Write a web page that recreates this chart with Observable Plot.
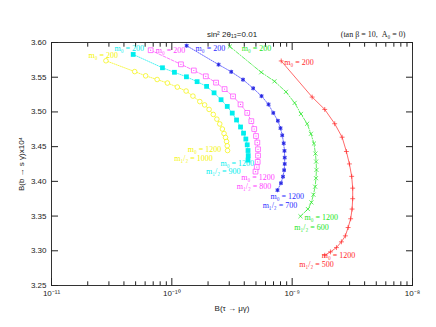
<!DOCTYPE html>
<html><head><meta charset="utf-8">
<script src="https://cdn.jsdelivr.net/npm/d3@7"></script>
<script src="https://cdn.jsdelivr.net/npm/@observablehq/plot@0.6"></script>
<style>body{margin:0;background:#fff;} svg{display:block}</style>
</head><body><div id="chart"></div>
<script>
// m_{1/2} value of each curve; m0 runs from 200 (top) to 1200 (bottom)
const m12Values = [500, 600, 700, 800, 900, 1000];
const m0Top = 200, m0Bottom = 1200;
const titleText = "sin² 2θ₁₃=0.01";
const noteText = "(tan β = 10,  A₀ = 0)";
const xLabel = "B(τ → μγ)";
const yLabel = "B(b → s γ)x10⁴";

const redX = [8.11e-10, 1.466e-9, 1.865e-9, 2.257e-9, 2.60e-9, 2.822e-9, 2.99e-9, 3.124e-9, 3.184e-9, 3.184e-9, 3.147e-9, 3.063e-9, 2.917e-9, 2.767e-9, 2.565e-9, 2.333e-9, 2.08e-9, 1.865e-9];
const redY = [3.5734, 3.5214, 3.5036, 3.483, 3.4636, 3.443, 3.4251, 3.4072, 3.3902, 3.375, 3.3601, 3.3461, 3.3335, 3.3215, 3.3129, 3.3046, 3.2984, 3.2936];
const greenX = [3.034e-10, 5.53e-10, 7.13e-10, 8.88e-10, 1.049e-9, 1.183e-9, 1.332e-9, 1.432e-9, 1.517e-9, 1.561e-9, 1.582e-9, 1.592e-9, 1.577e-9, 1.552e-9, 1.502e-9, 1.445e-9, 1.352e-9, 1.172e-9];
const greenY = [3.5942, 3.5571, 3.5441, 3.5289, 3.513, 3.4971, 3.483, 3.4685, 3.4545, 3.44, 3.4285, 3.4165, 3.4046, 3.3923, 3.3808, 3.3697, 3.3601, 3.3497];
const blueX = [1.327e-10, 2.445e-10, 3.118e-10, 3.905e-10, 4.746e-10, 5.563e-10, 6.36e-10, 6.97e-10, 7.60e-10, 8.0e-10, 8.275e-10, 8.50e-10, 8.63e-10, 8.665e-10, 8.665e-10, 8.58e-10, 8.39e-10, 8.07e-10, 7.55e-10];
const blueY = [3.5954, 3.5682, 3.5578, 3.5465, 3.534, 3.5228, 3.5108, 3.4986, 3.4873, 3.4766, 3.4663, 3.4548, 3.444, 3.4342, 3.4251, 3.4162, 3.4068, 3.3974, 3.3873];
const magentaX = [6.67e-11, 1.19e-10, 1.523e-10, 1.915e-10, 2.331e-10, 2.743e-10, 3.226e-10, 3.724e-10, 4.232e-10, 4.577e-10, 4.837e-10, 5.007e-10, 5.133e-10, 5.203e-10, 5.203e-10, 5.17e-10, 5.08e-10, 4.959e-10];
const magentaY = [3.5889, 3.5686, 3.5597, 3.5513, 3.5422, 3.5329, 3.5224, 3.5108, 3.4986, 3.4867, 3.4754, 3.4653, 3.4559, 3.4462, 3.4371, 3.428, 3.4205, 3.414];
const cyanX = [4.774e-11, 8.36e-11, 1.051e-10, 1.322e-10, 1.622e-10, 1.945e-10, 2.244e-10, 2.565e-10, 2.888e-10, 3.177e-10, 3.45e-10, 3.724e-10, 3.943e-10, 4.121e-10, 4.232e-10, 4.297e-10, 4.314e-10, 4.297e-10];
const cyanY = [3.5828, 3.5636, 3.5571, 3.5506, 3.5436, 3.5368, 3.5275, 3.5176, 3.5079, 3.4983, 3.4884, 3.4783, 3.4694, 3.461, 3.4526, 3.4444, 3.4371, 3.4306];
const yellowX = [2.833e-11, 4.913e-11, 6.06e-11, 7.55e-11, 9.19e-11, 1.111e-10, 1.314e-10, 1.497e-10, 1.708e-10, 1.873e-10, 2.04e-10, 2.21e-10, 2.367e-10, 2.502e-10, 2.63e-10, 2.716e-10, 2.795e-10, 2.85e-10, 2.888e-10, 2.905e-10];
const yellowY = [3.5737, 3.5581, 3.552, 3.5467, 3.5416, 3.5358, 3.5301, 3.5228, 3.5149, 3.5101, 3.5036, 3.4964, 3.4896, 3.4827, 3.4754, 3.4689, 3.4632, 3.4574, 3.4512, 3.4444];

const xMajorTicks = [1e-11, 1e-10, 1e-9, 1e-8];
const xMinorMult = [2, 3, 4, 5, 6, 7, 8, 9];
const yTicks = [3.25, 3.30, 3.35, 3.40, 3.45, 3.50, 3.55, 3.60];

// ---- build ----
const seriesX = [redX, greenX, blueX, magentaX, cyanX, yellowX];
const seriesY = [redY, greenY, blueY, magentaY, cyanY, yellowY];
const series = m12Values.map((m, i) => seriesX[i].map((x, j) => ({m12: m, x, y: seriesY[i][j]})));
const xMinorTicks = xMajorTicks.slice(0, 3).flatMap(d => xMinorMult.map(k => d * k));

const styles = [
  {color: "#ff2a2a", dash: null},
  {color: "#22e622", dash: "4,1.5,1,1.5"},
  {color: "#2a2aff", dash: "1,1.2"},
  {color: "#ff40ff", dash: "3,1.5"},
  {color: "#00eeee", dash: "1,1.2"},
  {color: "#f4f400", dash: "1,1.2"}
];
// label placement (pixel offsets from the first / last point)
const topLab = [
  {dx: 3, dy: 1.5, a: "start"}, {dx: 12, dy: 2.4, a: "start"}, {dx: 9, dy: 2.5, a: "start"},
  {dx: 5, dy: 0, a: "start"}, {dx: -4, dy: -6, a: "middle"}, {dx: -2.7, dy: -5.5, a: "middle"}
];
const botLab = [
  {dx: -3, dy: 0, a: "start"}, {dx: 4, dy: 1.2, a: "start"}, {dx: -7, dy: 6.2, a: "start"},
  {dx: -14.3, dy: 6, a: "start"}, {dx: -27.5, dy: 3.5, a: "start"}, {dx: -6.3, dy: -1.2, a: "end"}
];
const mLab = [
  {dx: 9, dy: 8.8}, {dx: 28.3, dy: 10.8}, {dx: 19.7, dy: 14.8},
  {dx: 15.7, dy: 15.3}, {dx: -7.5, dy: 11.8}, {dx: -14.7, dy: 8}
];

const supMap = {"-": "⁻", "0": "⁰", "1": "¹", "2": "²", "3": "³", "4": "⁴", "5": "⁵", "6": "⁶", "7": "⁷", "8": "⁸", "9": "⁹"};
const fmtX = d => "10" + String(Math.round(Math.log10(d))).split("").map(c => supMap[c]).join("");

const serif = "Liberation Serif, Times New Roman, serif";
const marks = [
  Plot.frame({stroke: "#333", strokeWidth: 1}),
  Plot.axisX(xMajorTicks, {anchor: "bottom", tickSize: 0, tickPadding: 5, tickFormat: fmtX, label: xLabel, labelAnchor: "center", labelOffset: 25, labelArrow: "none"}),
  Plot.axisX(xMajorTicks, {anchor: "bottom", tickSize: -7, fill: "none", label: null}),
  Plot.axisX(xMinorTicks, {anchor: "bottom", tickSize: -3.7, fill: "none", label: null}),
  Plot.axisX(xMajorTicks, {anchor: "top", tickSize: -7, fill: "none", label: null}),
  Plot.axisX(xMinorTicks, {anchor: "top", tickSize: -3.7, fill: "none", label: null}),
  Plot.axisY(yTicks, {anchor: "left", tickSize: 0, tickPadding: 5, tickFormat: d => d.toFixed(2), label: yLabel, labelAnchor: "center", labelOffset: 33, labelArrow: "none"}),
  Plot.axisY(yTicks, {anchor: "left", tickSize: -7, fill: "none", label: null}),
  Plot.axisY(yTicks, {anchor: "right", tickSize: -7, fill: "none", label: null}),
  Plot.text([titleText], {frameAnchor: "top", text: d => d, dy: -11, fontSize: 8}),
  Plot.text([noteText], {frameAnchor: "top-right", text: d => d, textAnchor: "end", dx: -7, dy: -11, fontSize: 8, fontFamily: serif})
];

series.forEach((s, i) => {
  const st = styles[i];
  marks.push(Plot.line(s, {x: "x", y: "y", stroke: st.color, strokeWidth: 0.7, strokeDasharray: st.dash}));
});
series.forEach((s, i) => {
  const c = styles[i].color;
  if (i === 0) marks.push(Plot.dot(s, {x: "x", y: "y", symbol: "plus", r: 1.7, stroke: c, strokeWidth: 0.7}));
  if (i === 1) marks.push(Plot.dot(s, {x: "x", y: "y", symbol: "times", r: 2, stroke: c, strokeWidth: 0.7}));
  if (i === 2) {
    marks.push(Plot.dot(s, {x: "x", y: "y", symbol: "square", r: 2, fill: "#7878ff", stroke: "none"}));
    marks.push(Plot.dot(s, {x: "x", y: "y", symbol: "asterisk", r: 2, stroke: "#1010d0", strokeWidth: 0.6}));
  }
  if (i === 3) {
    marks.push(Plot.dot(s, {x: "x", y: "y", symbol: "square", r: 2.7, fill: "white", stroke: c, strokeWidth: 0.7}));
    marks.push(Plot.dot(s, {x: "x", y: "y", symbol: "circle", r: 0.6, fill: c, stroke: "none"}));
  }
  if (i === 4) marks.push(Plot.dot(s, {x: "x", y: "y", symbol: "square", r: 2.7, fill: c, stroke: "none"}));
  if (i === 5) marks.push(Plot.dot(s, {x: "x", y: "y", symbol: "circle", r: 2.3, fill: "white", stroke: c, strokeWidth: 0.7}));
});
series.forEach((s, i) => {
  const c = styles[i].color;
  const first = s[0], last = s[s.length - 1];
  marks.push(Plot.text([first], {x: "x", y: "y", text: d => `m₀ = ${m0Top}`, dx: topLab[i].dx, dy: topLab[i].dy, textAnchor: topLab[i].a, fill: c, fontSize: 8, fontFamily: serif}));
  marks.push(Plot.text([last], {x: "x", y: "y", text: d => `m₀ = ${m0Bottom}`, dx: botLab[i].dx, dy: botLab[i].dy, textAnchor: botLab[i].a, fill: c, fontSize: 8, fontFamily: serif}));
  marks.push(Plot.text([last], {x: "x", y: "y", text: d => `m₁/₂ = ${d.m12}`, dx: mLab[i].dx, dy: mLab[i].dy, textAnchor: "end", fill: c, fontSize: 8, fontFamily: serif}));
});

const chart = Plot.plot({
  width: 436, height: 327,
  marginLeft: 51, marginRight: 24, marginTop: 42, marginBottom: 42,
  x: {type: "log", domain: [1e-11, 1e-8]},
  y: {domain: [3.25, 3.60]},
  style: {fontFamily: "Liberation Sans, Arial, sans-serif", fontSize: "8px", color: "#222", background: "white"},
  marks
});
document.getElementById("chart").appendChild(chart);
</script>
</body></html>
